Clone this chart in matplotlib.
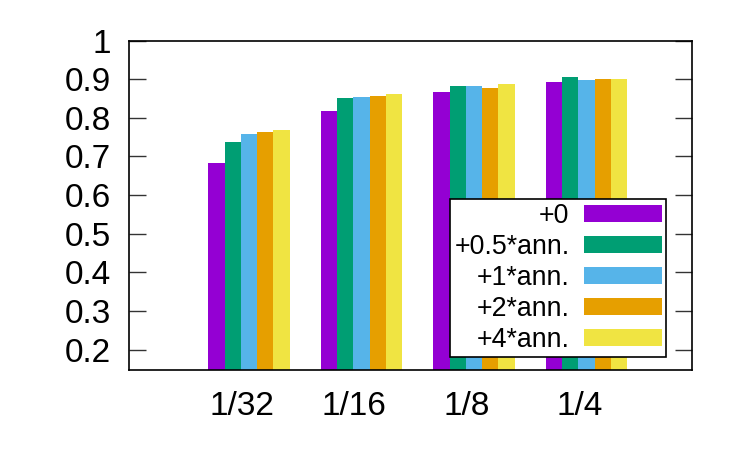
import matplotlib
matplotlib.use("Agg")
import matplotlib.pyplot as plt
import numpy as np

plt.rcParams['font.family'] = ['Liberation Sans', 'DejaVu Sans']

categories = ["1/32", "1/16", "1/8", "1/4"]
series_names = ["+0", "+0.5*ann.", "+1*ann.", "+2*ann.", "+4*ann."]
colors = ["#9400d3", "#009e73", "#56b4e9", "#e69f00", "#f0e442"]

v_plus0 = [0.684, 0.817, 0.866, 0.894]
v_half = [0.737, 0.851, 0.883, 0.907]
v_one = [0.759, 0.853, 0.883, 0.897]
v_two = [0.764, 0.858, 0.878, 0.902]
v_four = [0.769, 0.861, 0.887, 0.902]
values = [v_plus0, v_half, v_one, v_two, v_four]

fig = plt.figure(figsize=(7.5, 4.5), dpi=100)
ax = fig.add_axes([0.1724, 0.1778, 0.7499, 0.7318])

x = np.arange(len(categories))
w = 0.1446
for i, (name, vals, c) in enumerate(zip(series_names, values, colors)):
    ax.bar(x - 0.225 + i * w, vals, width=w, color=c, label=name, linewidth=0)

ax.set_xlim(-1.0, 4.0)
ax.set_ylim(0.147, 1.0)
ax.set_yticks([0.2, 0.3, 0.4, 0.5, 0.6, 0.7, 0.8, 0.9, 1.0])
ax.set_yticklabels(["0.2", "0.3", "0.4", "0.5", "0.6", "0.7", "0.8", "0.9", "1"])
ax.set_xticks(x)
ax.set_xticklabels(categories)
ax.tick_params(axis='y', direction='in', length=12.5, width=1, right=True,
               labelsize=24, pad=13, color='#333333')
ax.tick_params(axis='x', length=0, labelsize=24, pad=15)
for s in ax.spines.values():
    s.set_linewidth(1.2)

leg = ax.legend(loc='lower right', bbox_to_anchor=(0.9543, 0.039),
                markerfirst=False, fontsize=19.3, handlelength=2.9,
                handleheight=0.6, labelspacing=0.19, borderpad=0.15,
                handletextpad=0.55, borderaxespad=0, fancybox=False,
                framealpha=1, edgecolor='black')
leg.get_frame().set_linewidth(1.2)
for t in leg.get_texts():
    t.set_ha('right')
leg._legend_box.align = "right"
leg.set_zorder(5)

fig.savefig("out.png", dpi=100)
